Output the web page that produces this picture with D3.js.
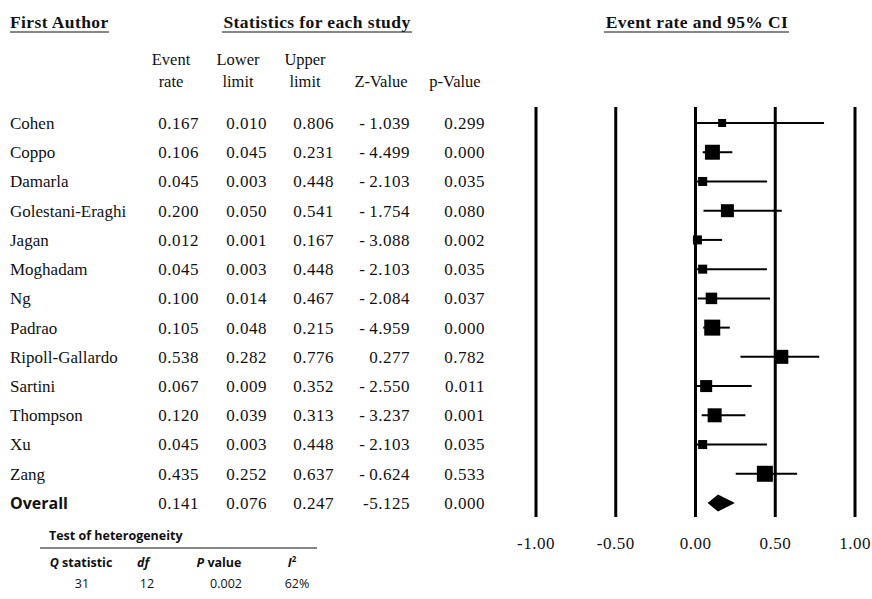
<!DOCTYPE html>
<html>
<head>
<meta charset="utf-8">
<script src="https://cdnjs.cloudflare.com/ajax/libs/d3/7.8.5/d3.min.js"></script>
</head>
<body style="margin:0; background:#fff">
<div id="chart"></div>
<script>
// study data
var authors = ["Cohen", "Coppo", "Damarla", "Golestani-Eraghi", "Jagan", "Moghadam", "Ng",
  "Padrao", "Ripoll-Gallardo", "Sartini", "Thompson", "Xu", "Zang"];
var eventRate = [0.167, 0.106, 0.045, 0.200, 0.012, 0.045, 0.100, 0.105, 0.538, 0.067, 0.120, 0.045, 0.435];
var lowerLimit = [0.010, 0.045, 0.003, 0.050, 0.001, 0.003, 0.014, 0.048, 0.282, 0.009, 0.039, 0.003, 0.252];
var upperLimit = [0.806, 0.231, 0.448, 0.541, 0.167, 0.448, 0.467, 0.215, 0.776, 0.352, 0.313, 0.448, 0.637];
var zValue = [-1.039, -4.499, -2.103, -1.754, -3.088, -2.103, -2.084, -4.959, 0.277, -2.550, -3.237, -2.103, -0.624];
var pValue = [0.299, 0.000, 0.035, 0.080, 0.002, 0.035, 0.037, 0.000, 0.782, 0.011, 0.001, 0.035, 0.533];
// relative weights
var weights = [3.0, 10.5, 3.8, 7.9, 3.8, 3.8, 6.2, 12.0, 9.2, 6.75, 9.2, 3.8, 12.0];

var overall = [0.141, 0.076, 0.247, -5.125, 0.000];

var hetHeaders = ["Q statistic", "df", "P value", "I²"];
var hetValues = ["31", "12", "0.002", "62%"];

var axisTicks = [-1.00, -0.50, 0.00, 0.50, 1.00];

var SERIF = "Liberation Serif";
var SANS = "Open Sans";
var INK = "#111";

var svg = d3.select("#chart").append("svg")
  .attr("width", 872)
  .attr("height", 599);

var x = d3.scaleLinear().domain([-1, 1]).range([536, 855]);
var y = d3.scaleLinear().domain([0, 13]).range([123, 503]);
var box = d3.scaleSqrt().domain([0, 12]).range([0, 16]);

function fmt(d) {
  return d3.format(".3f")(d).replace("−", "-");
}

// section headers with underlines
var headers = [
  { text: "First Author", x: 10, anchor: "start", x1: 10, x2: 109 },
  { text: "Statistics for each study", x: 317, anchor: "middle", x1: 222, x2: 412 },
  { text: "Event rate and 95% CI", x: 697, anchor: "middle", x1: 604, x2: 789 }
];

svg.selectAll("text.head")
  .data(headers)
  .enter()
  .append("text")
  .attr("x", function(d) { return d.x; })
  .attr("y", 28)
  .attr("text-anchor", function(d) { return d.anchor; })
  .style("font-family", SERIF)
  .style("font-size", "17.5px")
  .style("letter-spacing", "0.4px")
  .style("font-weight", "bold")
  .style("fill", INK)
  .text(function(d) { return d.text; });

svg.selectAll("line.head")
  .data(headers)
  .enter()
  .append("line")
  .attr("x1", function(d) { return d.x1; })
  .attr("x2", function(d) { return d.x2; })
  .attr("y1", 32).attr("y2", 32)
  .attr("stroke", INK)
  .attr("stroke-width", 1.2);

// column headers
var cols = [
  { l1: "Event", l2: "rate", x: 199, c: 171 },
  { l1: "Lower", l2: "limit", x: 267, c: 238 },
  { l1: "Upper", l2: "limit", x: 334, c: 305 },
  { l1: "", l2: "Z-Value", x: 410, c: 381 },
  { l1: "", l2: "p-Value", x: 485, c: 455 }
];

var colG = svg.selectAll("g.col")
  .data(cols)
  .enter()
  .append("g")
  .style("font-family", SERIF)
  .style("font-size", "16.5px")
  .style("fill", INK);

colG.append("text")
  .attr("x", function(d) { return d.c; })
  .attr("y", 65)
  .attr("text-anchor", "middle")
  .text(function(d) { return d.l1; });

colG.append("text")
  .attr("x", function(d) { return d.c; })
  .attr("y", 87)
  .attr("text-anchor", "middle")
  .text(function(d) { return d.l2; });

// table rows
var rows = authors.map(function(a, i) {
  return { name: a, vals: [eventRate[i], lowerLimit[i], upperLimit[i], zValue[i], pValue[i]], i: i };
});

var rowG = svg.selectAll("g.row")
  .data(rows)
  .enter()
  .append("g")
  .attr("transform", function(d) { return "translate(0," + y(d.i) + ")"; })
  .style("font-family", SERIF)
  .style("font-size", "17px")
  .style("fill", INK);

rowG.append("text")
  .attr("x", 10)
  .attr("dy", "0.35em")
  .text(function(d) { return d.name; });

rowG.selectAll("text.val")
  .data(function(d) { return d.vals; })
  .enter()
  .append("text")
  .attr("x", function(d, j) { return cols[j].x; })
  .attr("dy", "0.35em")
  .attr("text-anchor", "end")
  .style("letter-spacing", "0.5px")
  .text(function(d, j) { return j === 3 ? fmt(d).replace("-", "-\u2009") : fmt(d); });

// overall row
var oy = y(13);
svg.append("text")
  .attr("x", 10)
  .attr("y", oy)
  .attr("dy", "0.4em")
  .style("font-family", SANS)
  .style("font-size", "16px")
  .style("font-weight", "bold")
  .style("fill", INK)
  .text("Overall");

svg.selectAll("text.ov")
  .data(overall)
  .enter()
  .append("text")
  .attr("x", function(d, j) { return cols[j].x; })
  .attr("y", oy)
  .attr("dy", "0.35em")
  .attr("text-anchor", "end")
  .style("font-family", SERIF)
  .style("font-size", "17px")
  .style("letter-spacing", "0.5px")
  .style("fill", INK)
  .text(fmt);

// vertical reference lines
svg.selectAll("line.grid")
  .data(axisTicks)
  .enter()
  .append("line")
  .attr("x1", function(d) { return x(d); })
  .attr("x2", function(d) { return x(d); })
  .attr("y1", 107)
  .attr("y2", 517)
  .attr("stroke", "#000")
  .attr("stroke-width", 3);

svg.selectAll("text.tick")
  .data(axisTicks)
  .enter()
  .append("text")
  .attr("x", function(d) { return x(d); })
  .attr("y", 543)
  .attr("dy", "0.35em")
  .attr("text-anchor", "middle")
  .style("font-family", SERIF)
  .style("font-size", "17px")
  .style("letter-spacing", "0.5px")
  .style("fill", INK)
  .text(function(d) { return d3.format(".2f")(d).replace("−", "-"); });

// CI lines and boxes
svg.selectAll("line.ci")
  .data(rows)
  .enter()
  .append("line")
  .attr("x1", function(d) { return x(lowerLimit[d.i]); })
  .attr("x2", function(d) { return x(upperLimit[d.i]); })
  .attr("y1", function(d) { return y(d.i); })
  .attr("y2", function(d) { return y(d.i); })
  .attr("stroke", "#000")
  .attr("stroke-width", 2);

svg.selectAll("rect.box")
  .data(rows)
  .enter()
  .append("rect")
  .attr("x", function(d) { return x(eventRate[d.i]) - box(weights[d.i]) / 2; })
  .attr("y", function(d) { return y(d.i) - box(weights[d.i]) / 2; })
  .attr("width", function(d) { return box(weights[d.i]); })
  .attr("height", function(d) { return box(weights[d.i]); })
  .attr("fill", "#000");

// overall diamond
var dh = 8.5;
svg.append("path")
  .attr("d", "M" + x(overall[1]) + "," + oy +
    "L" + x(overall[0]) + "," + (oy - dh) +
    "L" + x(overall[2]) + "," + oy +
    "L" + x(overall[0]) + "," + (oy + dh) + "Z")
  .attr("fill", "#000");

// heterogeneity table
svg.append("text")
  .attr("x", 49)
  .attr("y", 540)
  .style("font-family", SANS)
  .style("font-size", "12.5px")
  .style("font-weight", "bold")
  .style("fill", INK)
  .text("Test of heterogeneity");

svg.append("line")
  .attr("x1", 40).attr("x2", 317)
  .attr("y1", 548).attr("y2", 548)
  .attr("stroke", INK)
  .attr("stroke-width", 1.2);

var hetHeadX = [81, 143, 219, 292];
var hetValX = [82, 147, 226, 297];

var hh = svg.selectAll("text.hh")
  .data(hetHeaders)
  .enter()
  .append("text")
  .attr("x", function(d, i) { return hetHeadX[i]; })
  .attr("y", 567)
  .attr("text-anchor", "middle")
  .style("font-family", SANS)
  .style("font-size", "12.5px")
  .style("font-weight", "bold")
  .style("fill", INK);

hh.each(function(d) {
  var t = d3.select(this);
  var first = d.charAt(0);
  if (d === "I²") {
    t.append("tspan").style("font-style", "italic").text("I");
    t.append("tspan").attr("dy", -5).style("font-size", "8px").text("2");
  } else if (first === "Q" || first === "P") {
    t.append("tspan").style("font-style", "italic").text(first);
    t.append("tspan").text(d.slice(1));
  } else {
    t.append("tspan").style("font-style", "italic").text(d);
  }
});

svg.selectAll("text.hv")
  .data(hetValues)
  .enter()
  .append("text")
  .attr("x", function(d, i) { return hetValX[i]; })
  .attr("y", 588)
  .attr("text-anchor", "middle")
  .style("font-family", SANS)
  .style("font-size", "12.5px")
  .style("fill", INK)
  .text(function(d) { return d; });
</script>
</body>
</html>
